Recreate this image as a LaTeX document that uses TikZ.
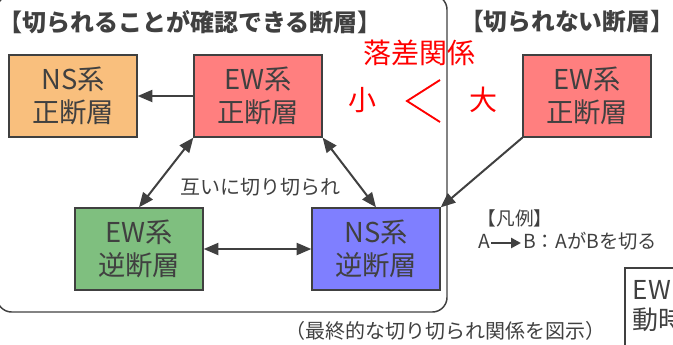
\documentclass[tikz,border=0pt]{standalone}
\usepackage{fontspec}
\setmainfont{Noto Sans CJK JP}
\usepackage{tikz}
\usetikzlibrary{arrows.meta}
\usetikzlibrary{calc}
\usetikzlibrary{positioning}

\definecolor{txt}{RGB}{64,64,64}
\definecolor{orangebox}{RGB}{249,191,125}
\definecolor{redbox}{RGB}{255,127,127}
\definecolor{greenbox}{RGB}{127,191,127}
\definecolor{bluebox}{RGB}{127,127,255}

\begin{document}
\begin{tikzpicture}[x=0.75pt,y=-0.75pt]
\tikzstyle{every node}=[text=txt]
\tikzstyle{fault}=[draw=txt, line width=1pt, minimum width=96pt, minimum height=61.5pt, align=center, font=\fontsize{20.5}{24.75}\selectfont]
\tikzstyle{cut}=[line width=1.5pt, draw=txt, >={Triangle[length=11pt,width=9pt]}]
\useasboundingbox (0,0) rectangle (673,344);
\clip (0,0) rectangle (673,344);

%=== Cadre des failles recoupees
\draw[txt, line width=1.1pt, rounded corners=11pt] (-3,-5) rectangle (447,312);

% Titres
\node[font=\fontsize{18}{20}\selectfont\bfseries] (ttlA) at (190,22) {【切られることが確認できる断層】};
\node[font=\fontsize{17.8}{20}\selectfont\bfseries] (ttlB) at (567,22) {【切られない断層】};

% Failles
\node[fault, fill=orangebox] (nsN) at (73,96) {NS系\\正断層};
\node[fault, fill=redbox] (ewN) at (258,96) {EW系\\正断層};
\node[fault, fill=greenbox] (ewR) at (139,249) {EW系\\逆断層};
\node[fault, fill=bluebox] (nsR) at (376,249) {NS系\\逆断層};
\node[fault, fill=redbox] (ewN2) at (587,96) {EW系\\正断層};

% Recoupements
\draw[cut,->] (ewN) -- (nsN);
\draw[cut,<->] (ewN.south west) -- (ewR.north);
\draw[cut,<->] (ewN.south east) -- (nsR.north);
\draw[cut,<->] (ewR) -- (nsR);
\draw[cut,->] (ewN2.south west) -- (nsR.north east);
\node[font=\fontsize{15}{18}\selectfont] (mutual) at (260,187) {互いに切り切られ};

%=== Rejet
\node[red, font=\fontsize{21}{24}\selectfont] (rejet) at (419,53) {落差関係};
\node[red, font=\fontsize{21}{24}\selectfont] (small) at (362,100) {小};
\node[red, font=\fontsize{21}{24}\selectfont] (large) at (483,100) {大};
\draw[red, line width=1.4pt] (440,80) -- (407,101) -- (440,122);

%=== Legende
\node[anchor=west, font=\fontsize{14}{16}\selectfont] (leg) at (473,218) {【凡例】};
\node[anchor=west, inner sep=0pt, text height=10pt, text depth=2pt, font=\fontsize{14.5}{16}\selectfont] (legA) at (478,243) {A};
\node[anchor=west, inner sep=0pt, text height=10pt, text depth=2pt, font=\fontsize{14.5}{16}\selectfont] (legB) at (523,243) {B：AがBを切る};
\draw[line width=2.2pt, draw=txt, -{Triangle[length=7.5pt,width=7.5pt]}] ($(legA.east)+(1,0)$) -- ($(legB.west)+(-2,0)$);

%=== Note (coupee)
\draw[txt, line width=1pt] (625,268) rectangle (720,400);
\node[anchor=north west, align=left, font=\fontsize{19.5}{22.5}\selectfont] (note) at (628,276) {EW\\動時};

% Titre du bas
\node[font=\fontsize{15}{18}\selectfont] (caption) at (445,331) {（最終的な切り切られ関係を図示）};
\end{tikzpicture}
\end{document}
